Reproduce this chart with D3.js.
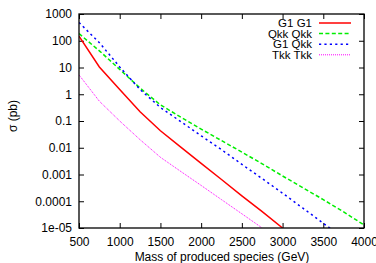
<!DOCTYPE html>
<html>
<head>
<meta charset="utf-8">
<script src="https://cdn.jsdelivr.net/npm/d3@7"></script>
<style>
    body { margin: 0; background: #fff; }
    text { font-family: "Liberation Sans", Arial, sans-serif; font-size: 12px; fill: #000; }
</style>
</head>
<body>
<div id="chart"></div>
<script>
'use strict';

// masses in GeV, cross sections in pb (null = not drawn)
var masses   = [500, 750, 1000, 1250, 1500, 1750, 2000, 2250, 2500, 2750, 3000, 3250, 3500, 3750, 4000];
var g1g1     = [150, 10.5, 1.5, 0.22, 0.043, 0.0105, 0.0026, 6.5e-4, 1.6e-4, 4.1e-5, 1.0e-5, null, null, null, null];
var qkkqkk   = [185, 42, 8.5, 1.7, 0.4, 0.14, 0.05, 0.0185, 0.0069, 0.0025, 8.8e-4, 3.2e-4, 1.15e-4, 4e-5, 1.3e-5];
var g1qkk    = [480, 85, 10.5, 1.5, 0.32, 0.095, 0.028, 0.0085, 0.0024, 7e-4, 2e-4, 5.5e-5, 1.5e-5, 4.2e-6, null];
var tkktkk   = [5.3, 0.55, 0.1, 0.02, 0.0044, 0.0013, 3.9e-4, 1.15e-4, 3.4e-5, 1e-5, null, null, null, null, null];

var seriesNames = ["G1 G1", "Qkk Qkk", "G1 Qkk", "Tkk Tkk"];
var seriesVals  = [g1g1, qkkqkk, g1qkk, tkktkk];

var xTicks = [500, 1000, 1500, 2000, 2500, 3000, 3500, 4000];
var yTicks = [1000, 100, 10, 1, 0.1, 0.01, 0.001, 0.0001, 1e-5];
var yTickLabels = ["1000", "100", "10", "1", "0.1", "0.01", "0.001", "0.0001", "1e-05"];

var styles = [
    {color: "#ff0000", dash: null,      width: 1.5},
    {color: "#00ee00", dash: "4,2.4",   width: 1.5},
    {color: "#0000ff", dash: "2.2,3.2", width: 1.5},
    {color: "#ff00ff", dash: "1,1",     width: 1}
];

var W = 376, H = 263,
    m = {left: 79, right: 12, top: 14, bottom: 35};

var svg = d3.select("#chart").append("svg")
    .attr("width", W).attr("height", H);

var x = d3.scaleLinear().domain([500, 4000]).range([m.left, W - m.right]);
var y = d3.scaleLog().domain([1e-5, 1000]).range([H - m.bottom, m.top]);

svg.append("clipPath").attr("id", "plot")
    .append("rect")
    .attr("x", x.range()[0]).attr("y", y.range()[1])
    .attr("width", x.range()[1] - x.range()[0])
    .attr("height", y.range()[0] - y.range()[1]);

// axes: ticks point inward, mirrored on top and right
var tl = 5;
svg.append("g").attr("transform", "translate(0," + y.range()[0] + ")")
    .call(d3.axisBottom(x).tickValues(xTicks).tickSize(-tl).tickPadding(9).tickFormat(d3.format("d")));
svg.append("g").attr("transform", "translate(0," + y.range()[1] + ")")
    .call(d3.axisTop(x).tickValues(xTicks).tickSize(-tl).tickFormat(""));
svg.append("g").attr("transform", "translate(" + x.range()[0] + ",0)")
    .call(d3.axisLeft(y).tickValues(yTicks).tickSize(-tl).tickPadding(7)
        .tickFormat(function(d, i){ return yTickLabels[i]; }));
svg.append("g").attr("transform", "translate(" + x.range()[1] + ",0)")
    .call(d3.axisRight(y).tickValues(yTicks).tickSize(-tl).tickFormat(""));

svg.selectAll(".domain").remove();
svg.selectAll(".tick line").attr("stroke", "#000");
svg.selectAll(".tick text").style("font-size", "12px")
    .style("font-family", "'Liberation Sans', Arial, sans-serif");

// curves
var line = d3.line()
    .defined(function(d){ return d.v !== null; })
    .x(function(d){ return x(d.m); })
    .y(function(d){ return y(d.v); });

seriesVals.forEach(function(vals, i){
    var pts = masses.map(function(mm, j){ return {m: mm, v: vals[j]}; });
    svg.append("path")
        .attr("clip-path", "url(#plot)")
        .attr("d", line(pts))
        .attr("fill", "none")
        .attr("stroke", styles[i].color)
        .attr("stroke-width", styles[i].width)
        .attr("stroke-dasharray", styles[i].dash);
});

// border
svg.append("rect")
    .attr("x", x.range()[0]).attr("y", y.range()[1])
    .attr("width", x.range()[1] - x.range()[0])
    .attr("height", y.range()[0] - y.range()[1])
    .attr("fill", "none").attr("stroke", "#000").attr("stroke-width", 1.3);

// legend
var leg = svg.append("g");
seriesNames.forEach(function(name, i){
    var ly = 23 + i * 10.6;
    leg.append("text").attr("x", 312).attr("y", ly).attr("dy", "0.35em")
        .attr("text-anchor", "end").style("font-size", "11.5px").text(name);
    leg.append("line")
        .attr("x1", 319).attr("x2", 351).attr("y1", ly).attr("y2", ly)
        .attr("stroke", styles[i].color)
        .attr("stroke-width", styles[i].width)
        .attr("stroke-dasharray", styles[i].dash);
});

// axis titles
svg.append("text")
    .attr("x", (x.range()[0] + x.range()[1]) / 2 + 0.5).attr("y", 261)
    .attr("text-anchor", "middle")
    .text("Mass of produced species (GeV)");
svg.append("text")
    .attr("transform", "translate(17,116) rotate(-90)")
    .attr("text-anchor", "middle")
    .text("σ (pb)");
</script>
</body>
</html>
